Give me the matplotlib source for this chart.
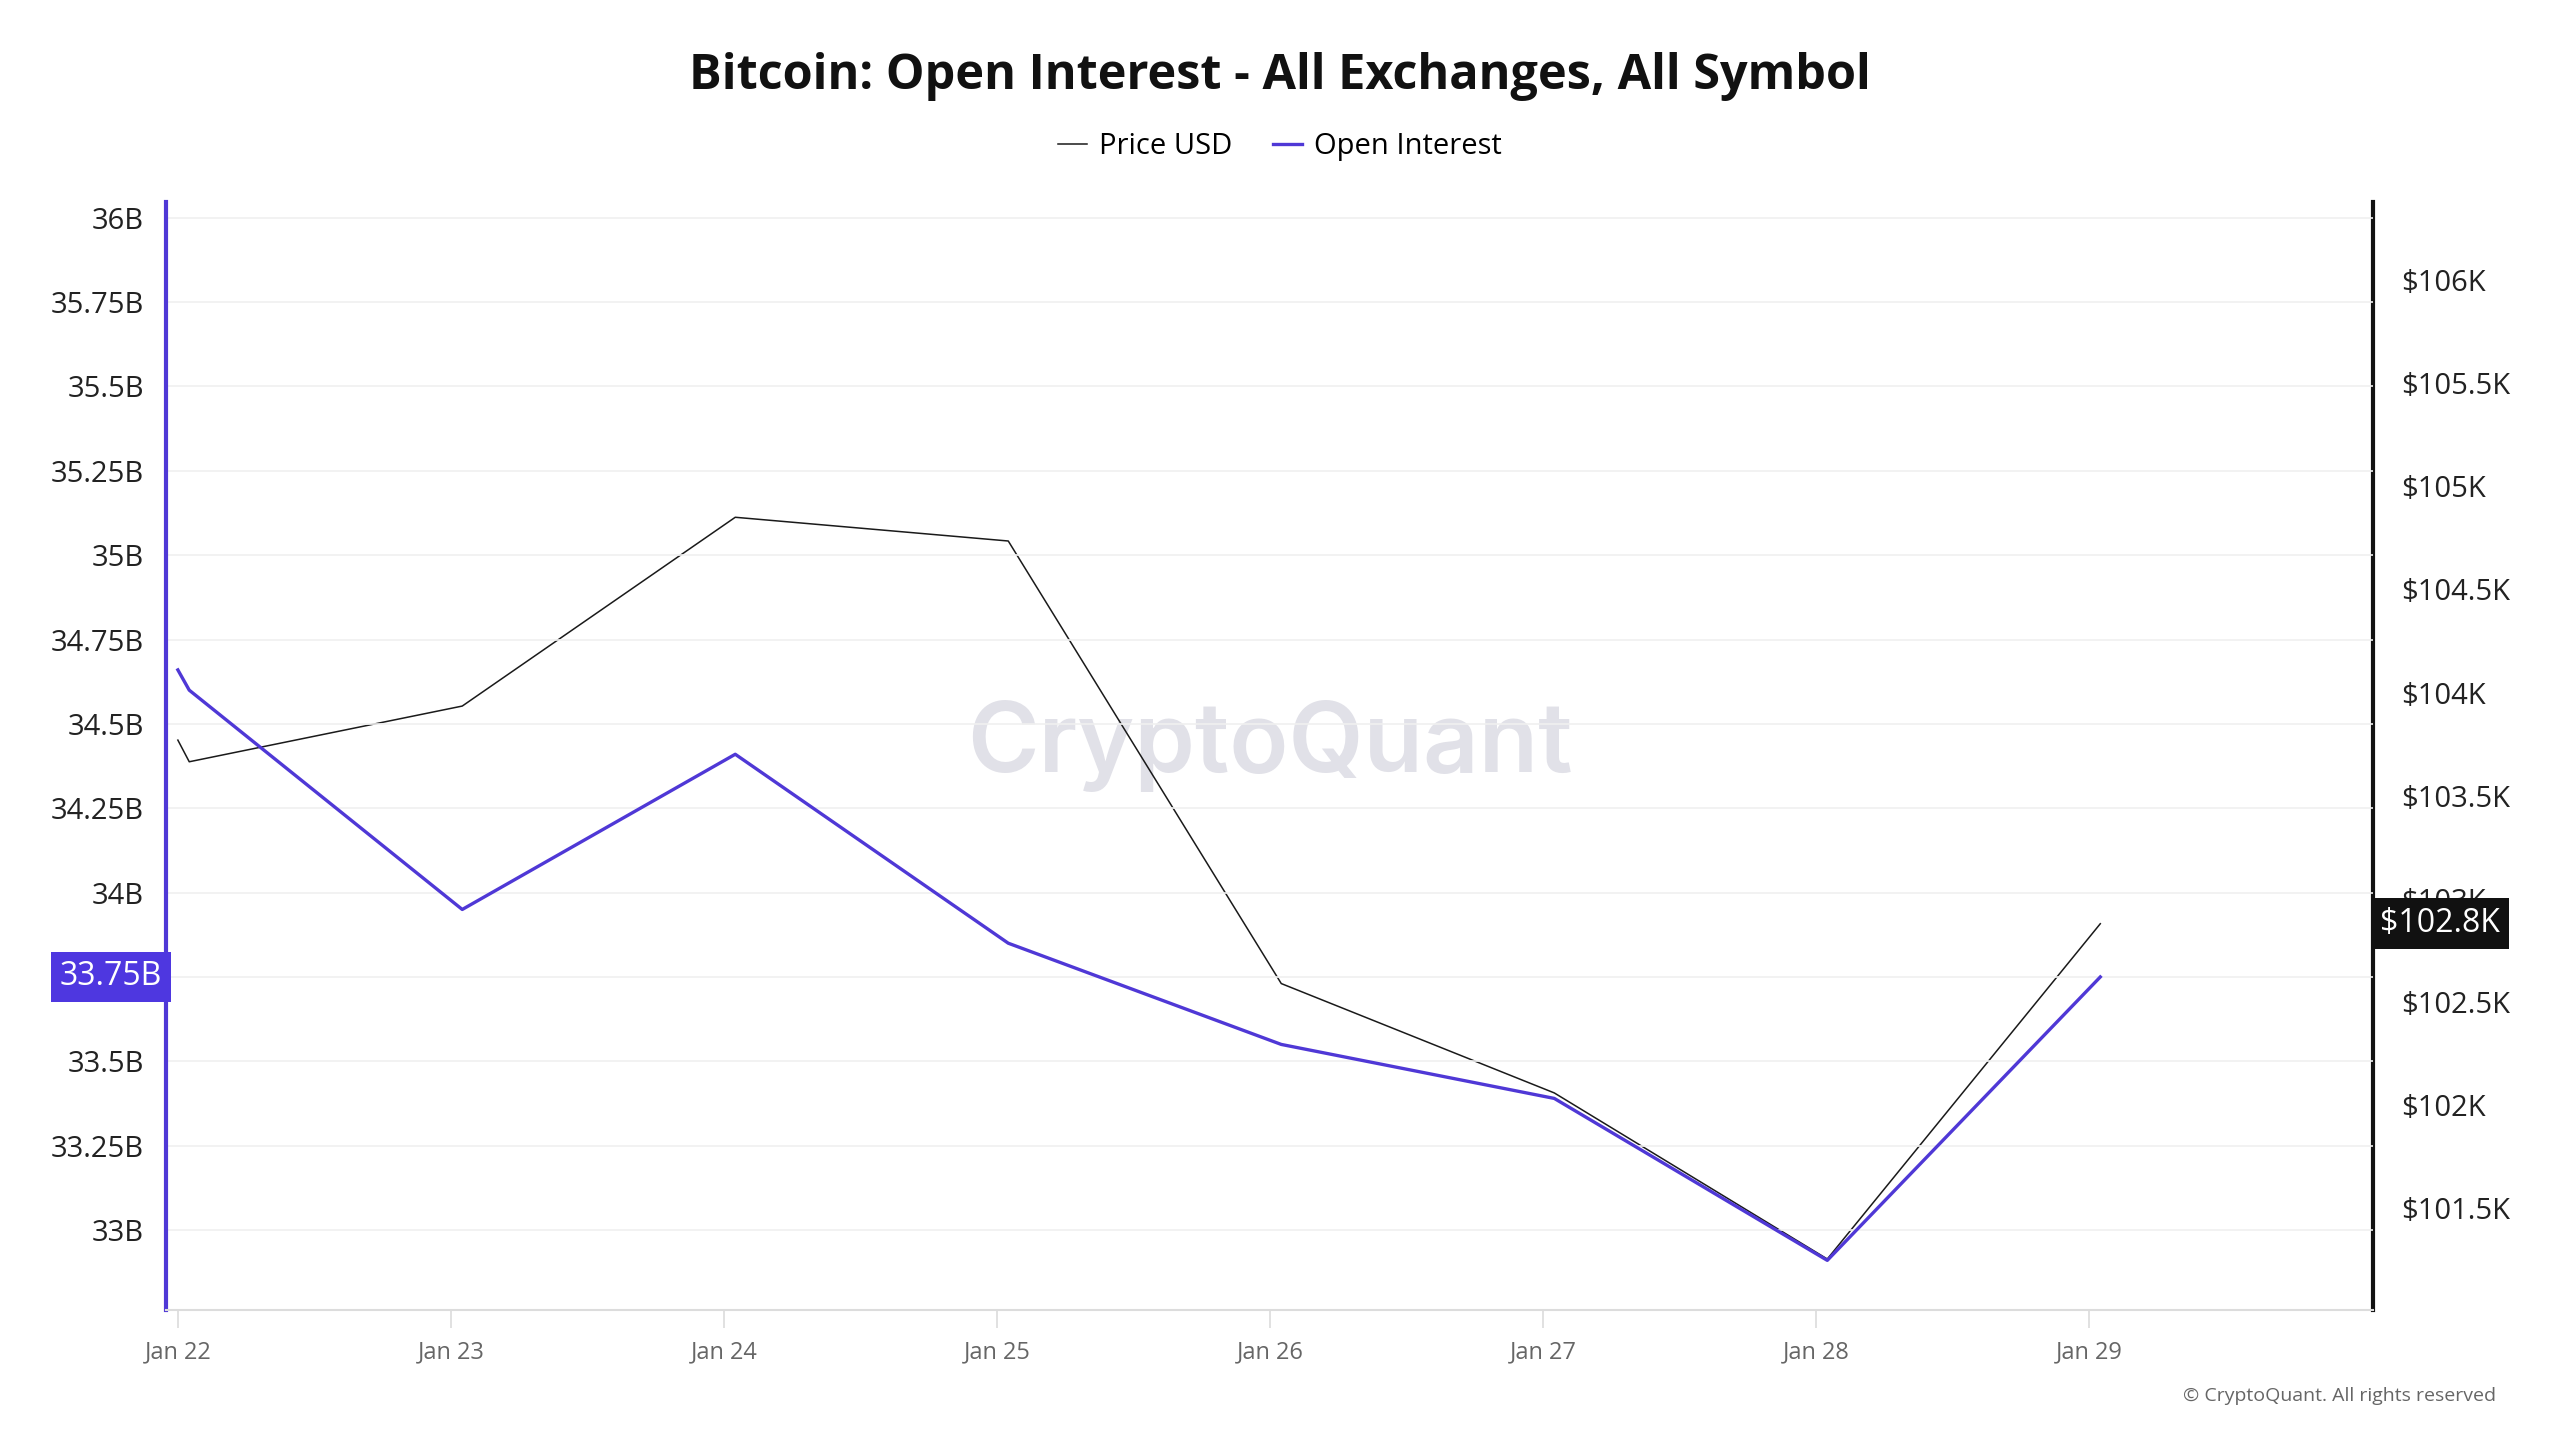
import matplotlib
matplotlib.use("Agg")
import matplotlib.pyplot as plt
import matplotlib.transforms as mtransforms
import pandas as pd

# ---- data ----
times = ["2025-01-22 00:00", "2025-01-22 01:00", "2025-01-23 01:00", "2025-01-24 01:00",
         "2025-01-25 01:00", "2025-01-26 01:00", "2025-01-27 01:00", "2025-01-28 01:00",
         "2025-01-29 01:00"]
price_usd = [103770, 103665, 103935, 104850, 104735, 102590, 102060, 101255, 102880]
open_interest_b = [34.66, 34.60, 33.95, 34.41, 33.85, 33.55, 33.39, 32.91, 33.75]

oi_ticks = [33, 33.25, 33.5, 33.75, 34, 34.25, 34.5, 34.75, 35, 35.25, 35.5, 35.75, 36]
price_ticks = [101500, 102000, 102500, 103000, 103500, 104000, 104500, 105000, 105500, 106000]
x_tick_days = ["2025-01-22", "2025-01-23", "2025-01-24", "2025-01-25", "2025-01-26",
               "2025-01-27", "2025-01-28", "2025-01-29"]

title = "Bitcoin: Open Interest - All Exchanges, All Symbol"
purple = "#4f38d6"
font = "Open Sans"

t = pd.to_datetime(times)
xt = pd.to_datetime(x_tick_days)

fig = plt.figure(figsize=(25.6, 14.4), dpi=100)
fig.patch.set_facecolor("white")
ax = fig.add_axes([0.065, 0.0903, 0.862, 0.7697])
ax2 = ax.twinx()

ax.set_zorder(2)
ax.patch.set_visible(False)
ax2.set_zorder(1)

# grid on left axis
for v in oi_ticks:
    ax.axhline(v, color="#f0f0f0", lw=1.2, zorder=0)

l2, = ax2.plot(t, price_usd, color="#1a1a1a", lw=1.1, label="Price USD")
l1, = ax.plot(t, open_interest_b, color=purple, lw=2.4, label="Open Interest")

x0 = pd.Timestamp("2025-01-22") - pd.Timedelta(days=0.042)
x1 = pd.Timestamp("2025-01-22") + pd.Timedelta(days=8.041)
ax.set_xlim(x0, x1)
ax.set_ylim(32.763, 36.048)
ax2.set_ylim(101008, 106380)

ax.set_yticks(oi_ticks)
ax.set_yticklabels([f"{v:g}B" for v in oi_ticks], fontsize=21, family=font, color="#222")
ax2.set_yticks(price_ticks)
ax2.set_yticklabels([f"${v/1000:g}K" for v in price_ticks], fontsize=21, family=font, color="#222")
ax.tick_params(axis="y", length=0, pad=16)
ax2.tick_params(axis="y", length=0, pad=20)

ax.set_xticks(xt)
ax.set_xticklabels([d.strftime("%b %-d") for d in xt], fontsize=17, family=font, color="#666")
ax.tick_params(axis="x", length=13, width=1.2, color="#dcdcdc", pad=9)

for a in (ax, ax2):
    a.spines["top"].set_visible(False)
ax.spines["right"].set_visible(False)
ax.spines["bottom"].set_color("#dcdcdc")
ax.spines["bottom"].set_linewidth(1.5)
ax.spines["left"].set_color(purple)
ax.spines["left"].set_linewidth(3)
ax2.spines["left"].set_visible(False)
ax2.spines["bottom"].set_visible(False)
ax2.spines["right"].set_color("#111")
ax2.spines["right"].set_linewidth(3)

# value label boxes
tl = mtransforms.blended_transform_factory(ax.transAxes, ax.transData)
ax.text(-0.002, open_interest_b[-1], f"{open_interest_b[-1]:.2f}B", transform=tl, ha="right", va="center",
        fontsize=23, family=font, color="white", zorder=10, clip_on=False,
        bbox=dict(boxstyle="square,pad=0.28", fc="#4e37e0", ec="none"))
tr = mtransforms.blended_transform_factory(ax2.transAxes, ax2.transData)
ax2.text(1.003, price_usd[-1], f"${int(price_usd[-1] / 100) / 10:.1f}K", transform=tr, ha="left", va="center",
         fontsize=23, family=font, color="white", zorder=10, clip_on=False,
         bbox=dict(boxstyle="square,pad=0.28", fc="#111111", ec="none"))

# watermark
fig.text(0.496, 0.482, "CryptoQuant", ha="center", va="center", fontsize=70, family="Inter",
         color="#e1e1e8", weight="semibold", zorder=0)

fig.text(0.5, 0.947, title, ha="center", va="center", fontsize=35, weight="bold",
         family=font, color="#111")
fig.legend(handles=[l2, l1], labels=["Price USD", "Open Interest"], loc="center",
           bbox_to_anchor=(0.5, 0.898), ncol=2, frameon=False, handlelength=1.0,
           handletextpad=0.4, columnspacing=1.4, prop={"family": font, "size": 21})
fig.text(0.975, 0.0306, "© CryptoQuant. All rights reserved", ha="right", va="center",
         fontsize=14, family=font, color="#666")

fig.savefig("out.png", dpi=100, facecolor="white")
